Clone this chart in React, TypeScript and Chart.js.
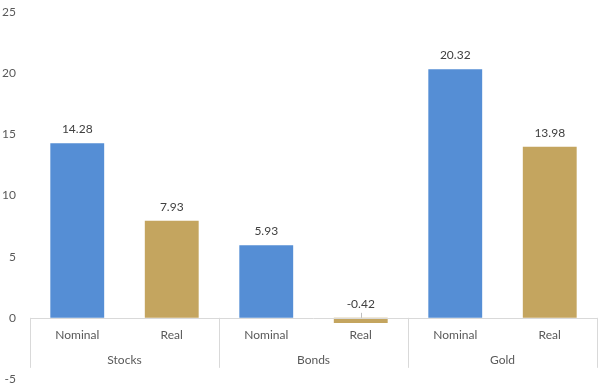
import React, { useEffect, useRef } from "react";
import { Chart, registerables } from "chart.js";

Chart.register(...registerables);

const groups = ["Stocks", "Bonds", "Gold"];
const subLabels = ["Nominal", "Real"];
const nominalValues = [14.28, 5.93, 20.32];
const realValues = [7.93, -0.42, 13.98];
const yMin = -5;
const yMax = 25;
const yStep = 5;

const BLUE = "#558ED5";
const GOLD = "#C4A55F";
const FONT = "Lato, 'Open Sans', sans-serif";

export default function App() {
  const ref = useRef<HTMLCanvasElement | null>(null);

  useEffect(() => {
    if (!ref.current) return;
    const labels: string[] = [];
    const values: number[] = [];
    const colors: string[] = [];
    groups.forEach((g, i) => {
      labels.push(subLabels[0]);
      values.push(nominalValues[i]);
      colors.push(BLUE);
      labels.push(subLabels[1]);
      values.push(realValues[i]);
      colors.push(GOLD);
    });

    const overlay = {
      id: "overlay",
      afterDatasetsDraw(chart: any) {
        const ctx = chart.ctx;
        const x = chart.scales.x;
        const y = chart.scales.y;
        const area = chart.chartArea;
        const y0 = y.getPixelForValue(0);
        const cw = x.getPixelForValue(1) - x.getPixelForValue(0);
        ctx.save();
        // axis line
        ctx.strokeStyle = "#D9D9D9";
        ctx.lineWidth = 1;
        ctx.beginPath();
        ctx.moveTo(area.left, Math.round(y0) + 0.5);
        ctx.lineTo(area.right, Math.round(y0) + 0.5);
        ctx.stroke();
        // separators
        for (let g = 0; g <= groups.length; g++) {
          let sx: number;
          if (g === groups.length) sx = x.getPixelForValue(labels.length - 1) + cw / 2;
          else sx = x.getPixelForValue(g * 2) - cw / 2;
          sx = Math.round(sx) + 0.5;
          ctx.beginPath();
          ctx.moveTo(sx, y0);
          ctx.lineTo(sx, y0 + 50);
          ctx.stroke();
        }
        // category labels
        ctx.fillStyle = "#595959";
        ctx.font = `12px ${FONT}`;
        ctx.textAlign = "center";
        ctx.textBaseline = "middle";
        labels.forEach((l, i) => {
          ctx.fillText(l, x.getPixelForValue(i), y0 + 17);
        });
        groups.forEach((g, i) => {
          const cx = (x.getPixelForValue(2 * i) + x.getPixelForValue(2 * i + 1)) / 2;
          ctx.fillText(g, cx, y0 + 42);
        });
        // data labels
        ctx.fillStyle = "#404040";
        values.forEach((v, i) => {
          const cx = x.getPixelForValue(i);
          const top = y.getPixelForValue(Math.max(v, 0));
          ctx.fillText(v.toFixed(2), cx, top - 14);
          if (v < 0) {
            ctx.strokeStyle = "#BFBFBF";
            ctx.beginPath();
            ctx.moveTo(Math.round(cx) + 0.5, top - 5);
            ctx.lineTo(Math.round(cx) + 0.5, top);
            ctx.stroke();
          }
        });
        ctx.restore();
      },
    };

    const chart = new Chart(ref.current, {
      type: "bar",
      data: {
        labels,
        datasets: [
          {
            data: values,
            backgroundColor: colors,
            barPercentage: 0.57,
            categoryPercentage: 1,
          },
        ],
      },
      options: {
        animation: false,
        responsive: true,
        maintainAspectRatio: false,
        layout: { padding: { top: 12, bottom: 8, left: 0, right: 3 } },
        plugins: { legend: { display: false }, tooltip: { enabled: false } },
        scales: {
          x: { display: false },
          y: {
            min: yMin,
            max: yMax,
            ticks: {
              stepSize: yStep,
              color: "#595959",
              font: { family: FONT, size: 12 },
              padding: 0,
            },
            grid: { display: false, drawTicks: true, tickLength: 14 },
            border: { display: false },
            afterFit(scale: any) {
              scale.width = 30;
            },
          },
        },
      },
      plugins: [overlay],
    });
    return () => chart.destroy();
  }, []);

  return (
    <div style={{ position: "absolute", left: 0, top: 0, width: 600, height: 387, background: "#fff" }}>
      <canvas ref={ref} />
    </div>
  );
}
